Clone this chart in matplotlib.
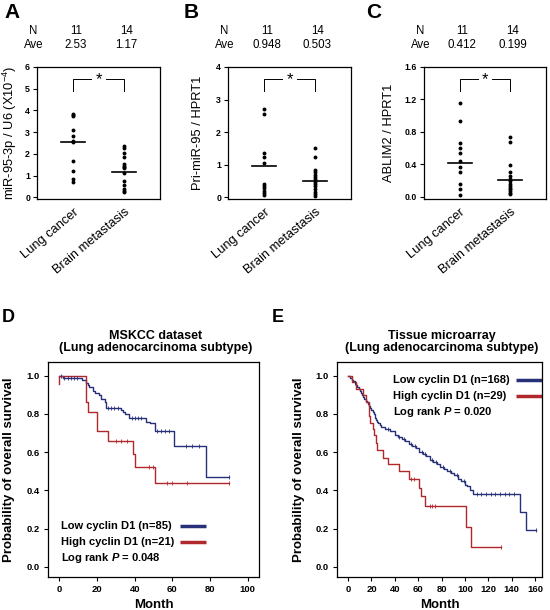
import numpy as np
import matplotlib
matplotlib.use("Agg")
from matplotlib import pyplot as plt
from matplotlib.transforms import ScaledTranslation

plt.rcParams['font.family'] = ['Liberation Sans', 'DejaVu Sans']
plt.rcParams['mathtext.fontset'] = 'custom'
plt.rcParams['mathtext.rm'] = 'Liberation Sans'
plt.rcParams['mathtext.it'] = 'Liberation Sans:bold:italic'

# ---- Panels A-C: expression per sample ----
groups = ["Lung cancer", "Brain metastasis"]
n_counts = [11, 14]

mir95_lung = [3.82, 3.78, 3.72, 3.12, 2.82, 2.6, 2.55, 1.65, 1.2, 0.85, 0.68]
mir95_brain = [2.38, 2.25, 2.05, 1.85, 1.55, 1.45, 1.4, 1.35, 1.1, 0.75, 0.55, 0.4, 0.3, 0.22]
mir95_ave = [2.53, 1.17]

pri_lung = [2.7, 2.55, 1.35, 1.25, 1.05, 0.4, 0.35, 0.28, 0.2, 0.12, 0.07]
pri_brain = [1.5, 1.25, 0.85, 0.78, 0.7, 0.62, 0.55, 0.48, 0.4, 0.35, 0.25, 0.18, 0.1, 0.05]
pri_ave = [0.948, 0.503]

ablim_lung = [1.16, 0.93, 0.66, 0.6, 0.54, 0.44, 0.36, 0.3, 0.16, 0.09, 0.02]
ablim_brain = [0.73, 0.68, 0.39, 0.3, 0.26, 0.22, 0.19, 0.16, 0.13, 0.11, 0.09, 0.07, 0.05, 0.03]
ablim_ave = [0.412, 0.199]

# ---- Panel D: MSKCC survival ----
d_low_t = [0, 2, 12, 14, 15, 16, 18, 19, 21, 22, 24, 25, 33, 34, 35, 37, 46, 48, 51, 61, 78, 90]
d_low_s = [1.0, 0.99, 0.98, 0.96, 0.95, 0.94, 0.92, 0.91, 0.90, 0.88, 0.86, 0.83, 0.82, 0.81,
           0.80, 0.78, 0.76, 0.75, 0.71, 0.63, 0.47, 0.47]
d_low_cens = [1, 2.5, 4.5, 6, 8, 9.5, 26, 27.5, 29, 31, 38.5, 40, 42, 43.5, 52, 54, 56, 58, 67, 70.5, 74, 90]
d_high_t = [0, 0, 14, 15, 20, 26, 39, 40, 51, 90]
d_high_s = [0.955, 1.0, 0.86, 0.81, 0.71, 0.66, 0.59, 0.52, 0.44, 0.44]
d_high_cens = [30, 33, 36, 47.5, 49.5, 57, 60, 68, 90]
d_labels = ['Low cyclin D1 (n=85)', 'High cyclin D1 (n=21)', 'Log rank $P$ = 0.048']

# ---- Panel E: tissue microarray survival ----
e_low_t = [0, 2, 3, 4, 6, 7, 8, 9, 10, 11, 12, 13, 14, 15, 16, 17, 18, 19, 20, 21, 22, 23, 24,
           25, 26, 27, 28, 32, 36, 40, 43, 46, 49, 52, 55, 58, 61, 64, 67, 70, 73, 76, 79, 82,
           85, 88, 91, 94, 97, 100, 102, 104, 107, 147, 152, 161]
e_low_s = [1.0, 0.99, 0.98, 0.97, 0.96, 0.95, 0.94, 0.93, 0.92, 0.91, 0.90, 0.89, 0.88, 0.87,
           0.86, 0.85, 0.84, 0.83, 0.82, 0.81, 0.80, 0.78, 0.77, 0.76, 0.75, 0.74, 0.73, 0.72,
           0.71, 0.69, 0.68, 0.67, 0.66, 0.64, 0.63, 0.62, 0.60, 0.59, 0.58, 0.56, 0.55, 0.54,
           0.52, 0.51, 0.50, 0.49, 0.48, 0.46, 0.45, 0.43, 0.42, 0.40, 0.38, 0.285, 0.19, 0.19]
e_low_cens = [6, 34, 44, 48, 54, 57, 63, 66, 72, 75, 81, 87, 93, 99, 110, 114, 118, 122, 126,
              130, 134, 138, 142, 161]
e_high_t = [0, 3, 7, 13, 15, 18, 19, 21, 22.5, 24, 25, 30, 34, 44, 52, 61, 62, 66, 101, 105, 131]
e_high_s = [1.0, 0.965, 0.93, 0.90, 0.86, 0.79, 0.75, 0.72, 0.69, 0.65, 0.61, 0.57, 0.54, 0.50,
            0.46, 0.41, 0.37, 0.32, 0.21, 0.105, 0.105]
e_high_cens = [54, 56, 70, 72, 74, 131]
e_labels = ['Low cyclin D1 (n=168)', 'High cyclin D1 (n=29)', 'Log rank $P$ = 0.020']

BLUE = '#27317a'
RED = '#b0282c'

fig = plt.figure(figsize=(5.5, 6.1), dpi=100)


def dot_panel(rect, lung, brain, ave, ylim, yticks, yticklabels, ylabel, label_x, letter):
    ax = fig.add_axes(rect)
    for i, vals in enumerate([lung, brain]):
        ax.plot([i + 1] * len(vals), vals, 'o', color='black', ms=2.8, mew=0)
        ax.plot([i + 1 - 0.24, i + 1 + 0.24], [ave[i], ave[i]], color='black', lw=1.2)
    ax.set_xlim(0.29, 2.71)
    ax.set_ylim(ylim)
    ax.set_yticks(yticks)
    ax.set_yticklabels(yticklabels, fontweight='bold')
    ax.set_xticks([1, 2])
    ax.set_xticklabels(groups, rotation=40, ha='right', va='top',
                       rotation_mode='anchor', fontsize=9.3)
    shift = ScaledTranslation(4 / 100, -4 / 100, fig.dpi_scale_trans)
    for lab in ax.get_xticklabels():
        lab.set_transform(lab.get_transform() + shift)
    ax.tick_params(axis='x', length=0, pad=5)
    ax.tick_params(axis='y', length=3, width=0.8, labelsize=6.3, pad=2)
    for s in ax.spines.values():
        s.set_linewidth(0.9)
    ax.set_ylabel(ylabel, fontsize=9.3)
    ax.yaxis.set_label_coords(label_x, 0.5)

    # significance bracket
    tr = ax.get_xaxis_transform()
    ax.plot([1, 1, 1.36], [0.82, 0.91, 0.91], color='black', lw=0.7, transform=tr)
    ax.plot([1.64, 2, 2], [0.91, 0.91, 0.82], color='black', lw=0.7, transform=tr)
    ax.text(1.5, 0.905, '*', transform=tr, ha='center', va='center', fontsize=12)

    # N / Ave header
    ax.text(-0.03, 1.275, 'N', transform=ax.transAxes, ha='center', va='center', fontsize=8.3)
    ax.text(-0.03, 1.17, 'Ave', transform=ax.transAxes, ha='center', va='center', fontsize=8.3)
    for i in range(2):
        ax.text(i + 1.05, 1.275, str(n_counts[i]), transform=tr, ha='center', va='center',
                fontsize=8.3)
        ax.text(i + 1.05, 1.17, '{:g}'.format(ave[i]), transform=tr, ha='center', va='center',
                fontsize=8.3)
    fig.text(letter[1], letter[2], letter[0], fontsize=15, fontweight='bold', va='center')
    return ax


dot_panel([37 / 550, 1 - 199 / 610, 123 / 550, 132 / 610], mir95_lung, mir95_brain, mir95_ave,
          (-0.08, 6), [0, 1, 2, 3, 4, 5, 6], ['0', '1', '2', '3', '4', '5', '6'],
          'miR-95-3p / U6 (X10$^{-4}$)', -0.145, ('A', 4 / 550, 1 - 13 / 610))
dot_panel([228 / 550, 1 - 199 / 610, 123 / 550, 132 / 610], pri_lung, pri_brain, pri_ave,
          (-0.05, 4), [0, 1, 2, 3, 4], ['0', '1', '2', '3', '4'],
          'Pri-miR-95 / HPRT1', -0.195, ('B', 184 / 550, 1 - 13 / 610))
dot_panel([424 / 550, 1 - 199 / 610, 122 / 550, 132 / 610], ablim_lung, ablim_brain,
          ablim_ave, (-0.03, 1.6), [0, 0.4, 0.8, 1.2, 1.6], ['0.0', '0.4', '0.8', '1.2', '1.6'],
          'ABLIM2 / HPRT1', -0.24, ('C', 366 / 550, 1 - 13 / 610))


def step_value(times, surv, t):
    idx = np.searchsorted(times, t, side='right') - 1
    return np.array(surv)[idx]


def km_panel(rect, low_t, low_s, low_c, high_t, high_s, high_c, xlim, xticks, title,
             labels, text_x, line_x, row_y, letter):
    ax = fig.add_axes(rect)
    ax.step(low_t, low_s, where='post', color=BLUE, lw=1.0)
    ax.step(high_t, high_s, where='post', color=RED, lw=1.0)
    ax.plot(low_c, step_value(low_t, low_s, low_c), '|', color=BLUE, ms=3, mew=0.6)
    ax.plot(high_c, step_value(high_t, high_s, high_c), '|', color=RED, ms=3, mew=0.6)
    ax.set_xlim(xlim)
    ax.set_ylim(-0.054, 1.072)
    ax.set_xticks(xticks)
    ax.set_yticks([0, 0.2, 0.4, 0.6, 0.8, 1.0])
    ax.set_yticklabels(['0.0', '0.2', '0.4', '0.6', '0.8', '1.0'])
    ax.tick_params(length=3, width=0.8, labelsize=6.8, pad=3)
    for t in ax.get_xticklabels() + ax.get_yticklabels():
        t.set_fontweight('bold')
    for s in ax.spines.values():
        s.set_linewidth(0.9)
    ax.set_xlabel('Month', fontsize=9.5, fontweight='bold')
    ax.xaxis.set_label_coords(0.5, -0.1)
    ax.set_ylabel('Probability of overall survival', fontsize=9.5, fontweight='bold')
    ax.yaxis.set_label_coords(-0.155, 0.5)
    ax.text(0.51, 1.035, title, transform=ax.transAxes, ha='center', va='bottom',
            fontsize=9, fontweight='bold', linespacing=1.1)

    # legend: text on the left, coloured line on the right
    for lab, y, col in zip(labels, row_y, [BLUE, RED, None]):
        ax.text(text_x, y, lab, transform=ax.transAxes, ha='left', va='center',
                fontsize=8, fontweight='bold')
        if col is not None:
            ax.plot(line_x, [y, y], color=col, lw=2.5, transform=ax.transAxes,
                    clip_on=False, solid_capstyle='butt')
    fig.text(letter[1], letter[2], letter[0], fontsize=13, fontweight='bold', va='center')
    return ax


km_panel([48 / 550, 1 - 577 / 610, 211 / 550, 215 / 610], d_low_t, d_low_s, d_low_cens,
         d_high_t, d_high_s, d_high_cens, (-6, 106), [0, 20, 40, 60, 80, 100],
         'MSKCC dataset\n(Lung adenocarcinoma subtype)', d_labels,
         0.062, [0.626, 0.749], [0.237, 0.163, 0.088], ('D', 2 / 550, 1 - 318 / 610))
km_panel([337 / 550, 1 - 577 / 610, 205 / 550, 215 / 610], e_low_t, e_low_s, e_low_cens,
         e_high_t, e_high_s, e_high_cens, (-9.5, 166), [0, 20, 40, 60, 80, 100, 120, 140, 160],
         'Tissue microarray\n(Lung adenocarcinoma subtype)', e_labels,
         0.273, [0.873, 1.0], [0.916, 0.842, 0.767], ('E', 272 / 550, 1 - 318 / 610))

fig.savefig('out.png', dpi=100)
